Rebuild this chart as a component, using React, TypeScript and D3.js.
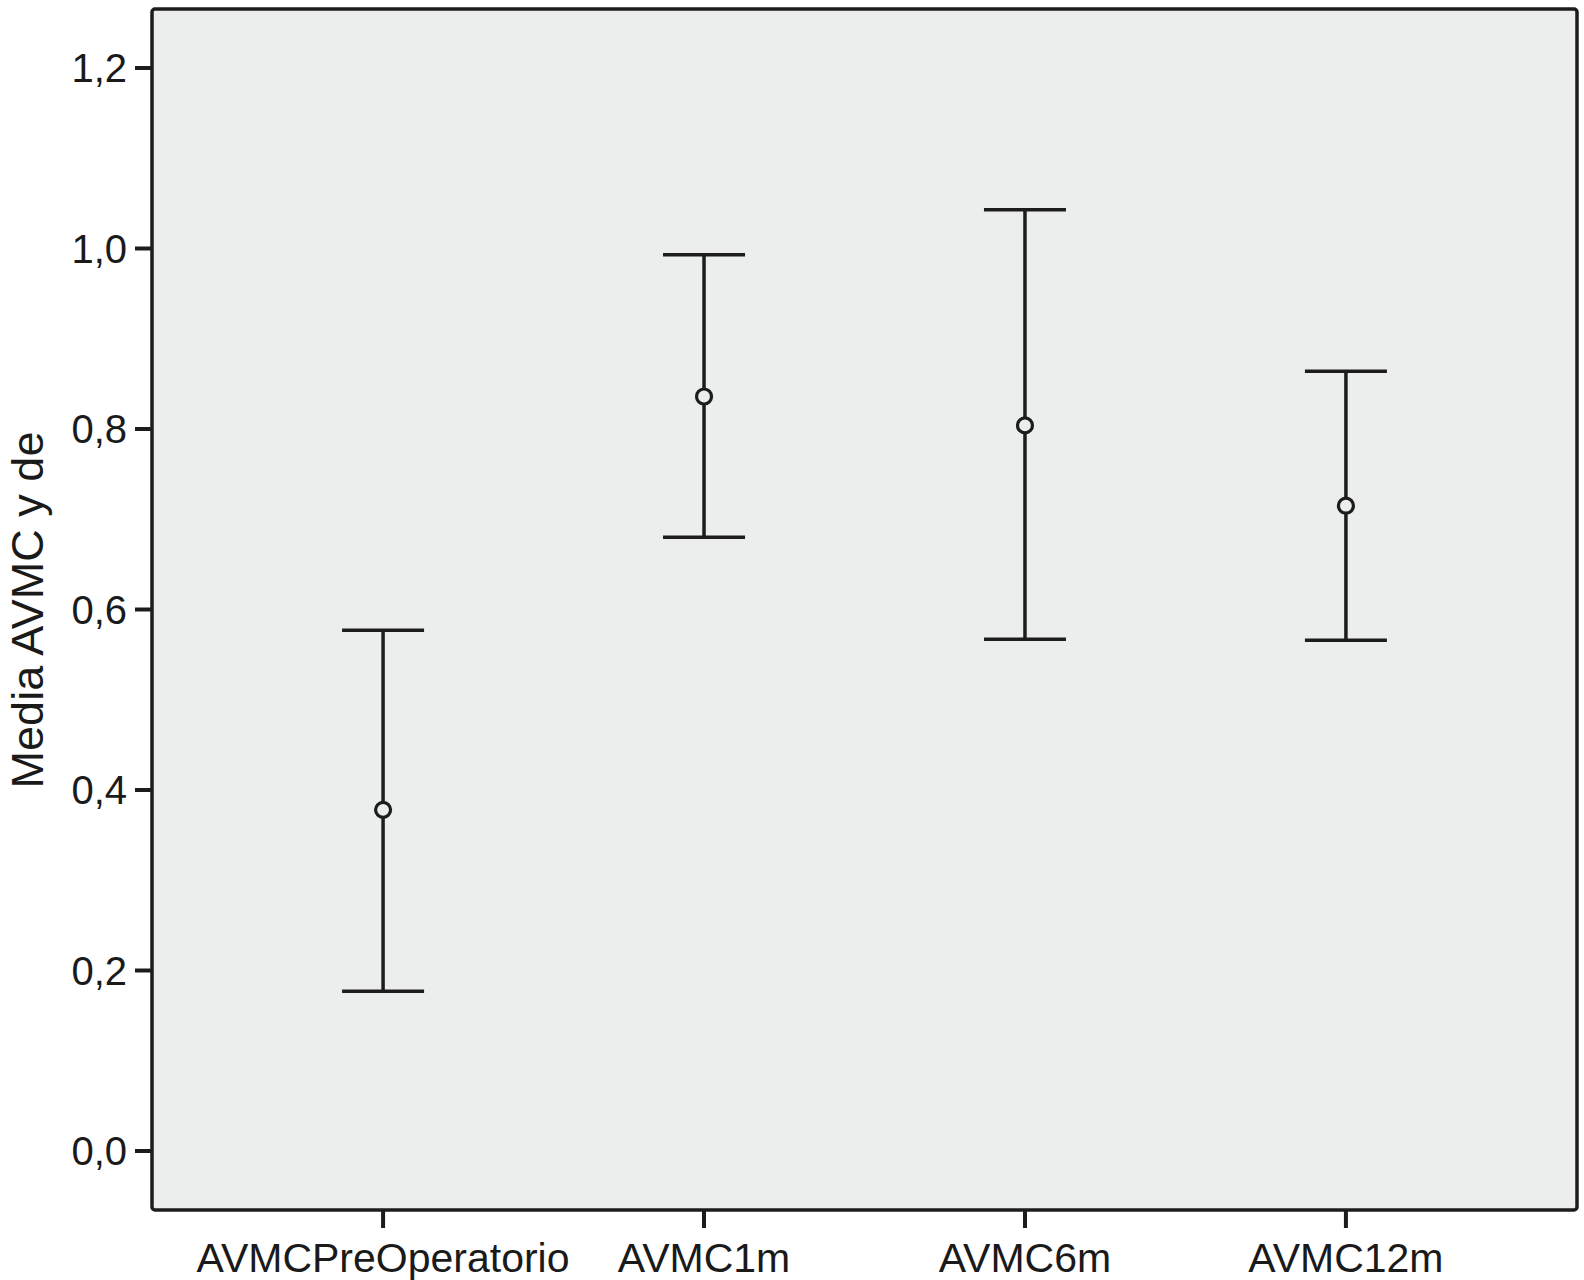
import React, { useEffect, useRef } from 'react';
import * as d3 from 'd3';

const categories = ['AVMCPreOperatorio', 'AVMC1m', 'AVMC6m', 'AVMC12m'];
const means = [0.378, 0.836, 0.804, 0.715];
const upper = [0.577, 0.993, 1.043, 0.864];
const lower = [0.177, 0.680, 0.567, 0.566];
const yTicks = [0.0, 0.2, 0.4, 0.6, 0.8, 1.0, 1.2];

const App = () => {
  const svgRef = useRef<SVGSVGElement>(null);

  useEffect(() => {
    const svg = d3.select(svgRef.current);
    svg.selectAll('*').remove();

    const width = 1584;
    const height = 1280;
    const left = 152;
    const right = 1577;
    const top = 9;
    const bottom = 1210;
    const font = 'Liberation Sans, Arial, Helvetica, sans-serif';

    svg.attr('width', width).attr('height', height);

    const x = d3.scalePoint<string>()
      .domain(categories)
      .range([left, right])
      .padding(0.72);

    const y = d3.scaleLinear()
      .domain([0, 1.2])
      .range([1151, 68]);

    // plot frame
    svg.append('rect')
      .attr('x', left)
      .attr('y', top)
      .attr('width', right - left)
      .attr('height', bottom - top)
      .attr('rx', 3)
      .attr('fill', '#eceeed')
      .attr('stroke', '#1c1c1c')
      .attr('stroke-width', 3.5);

    // y axis ticks + labels
    const fmt = (d: number) => d3.format('.1f')(d).replace('.', ',');
    const yAxis = svg.append('g');
    yAxis.selectAll('line')
      .data(yTicks)
      .enter()
      .append('line')
      .attr('x1', 135)
      .attr('x2', left)
      .attr('y1', d => y(d))
      .attr('y2', d => y(d))
      .attr('stroke', '#1c1c1c')
      .attr('stroke-width', 4);
    yAxis.selectAll('text')
      .data(yTicks)
      .enter()
      .append('text')
      .attr('x', 127)
      .attr('y', d => y(d))
      .attr('dy', '0.36em')
      .attr('text-anchor', 'end')
      .attr('font-family', font)
      .attr('font-size', 40)
      .attr('fill', '#1a1a1a')
      .text(d => fmt(d));

    // x axis ticks + labels
    const xAxis = svg.append('g');
    xAxis.selectAll('line')
      .data(categories)
      .enter()
      .append('line')
      .attr('x1', d => x(d)!)
      .attr('x2', d => x(d)!)
      .attr('y1', bottom)
      .attr('y2', 1228)
      .attr('stroke', '#1c1c1c')
      .attr('stroke-width', 4);
    xAxis.selectAll('text')
      .data(categories)
      .enter()
      .append('text')
      .attr('x', d => x(d)!)
      .attr('y', 1272)
      .attr('text-anchor', 'middle')
      .attr('font-family', font)
      .attr('font-size', 41)
      .attr('fill', '#1a1a1a')
      .text(d => d);

    // y title
    svg.append('text')
      .attr('transform', 'translate(43, 610) rotate(-90)')
      .attr('text-anchor', 'middle')
      .attr('font-family', font)
      .attr('font-size', 45)
      .attr('fill', '#1a1a1a')
      .text('Media AVMC y de');

    // error bars
    const bars = svg.append('g')
      .attr('stroke', '#1c1c1c')
      .attr('stroke-width', 3.5)
      .attr('fill', 'none');

    categories.forEach((c, i) => {
      const cx = x(c)!;
      bars.append('line')
        .attr('x1', cx).attr('x2', cx)
        .attr('y1', y(upper[i])).attr('y2', y(lower[i]));
      [upper[i], lower[i]].forEach(v => {
        bars.append('line')
          .attr('x1', cx - 41).attr('x2', cx + 41)
          .attr('y1', y(v)).attr('y2', y(v));
      });
      bars.append('circle')
        .attr('cx', cx)
        .attr('cy', y(means[i]))
        .attr('r', 7.5)
        .attr('stroke-width', 3.2)
        .attr('fill', '#eceeed');
    });
  }, []);

  return (
    <div style={{ position: 'absolute', left: 0, top: 0 }}>
      <svg ref={svgRef}></svg>
    </div>
  );
};

export default App;
